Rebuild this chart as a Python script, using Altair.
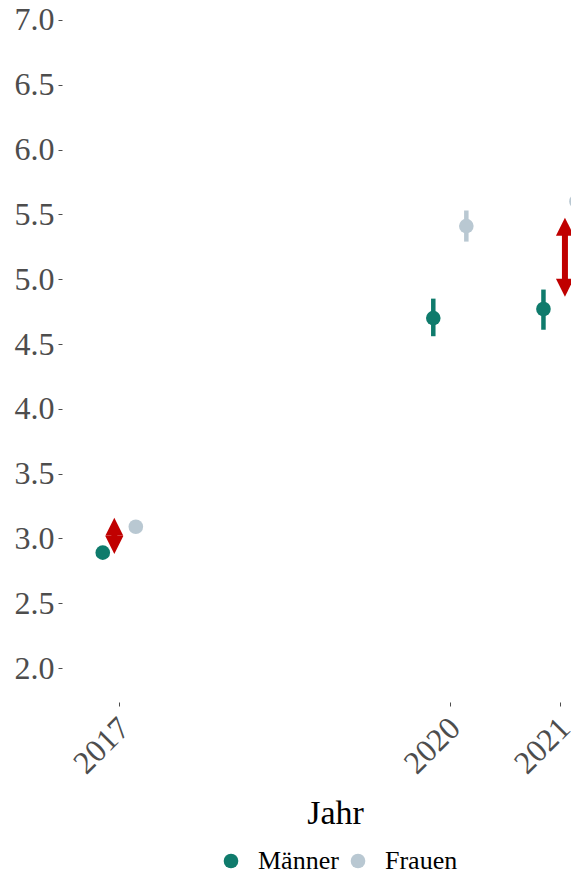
import altair as alt
import pandas as pd

# Survey years and group estimates (mean with interval bounds)
jahr = [2017, 2020, 2021]
maenner = [2.89, 4.70, 4.77]
maenner_lo = [2.89, 4.56, 4.61]
maenner_hi = [2.89, 4.85, 4.92]
frauen = [3.09, 5.41, 5.60]
frauen_lo = [3.09, 5.29, 5.48]
frauen_hi = [3.09, 5.53, 5.72]

# Gap arrows between the groups
pfeil_jahr = [2017, 2021]
pfeil_von = [2.88, 4.865]
pfeil_bis = [3.16, 5.475]

gruppen = ["Männer", "Frauen"]
farben = ["#0f7b6c", "#b9c8d2"]
ROT = "#c00000"
FONT = "Liberation Serif"

DODGE = {"Männer": -0.15, "Frauen": 0.15}
ARROW_NUDGE = {2017: -0.045, 2021: 0.045}

rows = []
for i, j in enumerate(jahr):
    rows.append({"Jahr": j, "Gruppe": "Männer", "Wert": maenner[i],
                 "lo": maenner_lo[i], "hi": maenner_hi[i]})
    rows.append({"Jahr": j, "Gruppe": "Frauen", "Wert": frauen[i],
                 "lo": frauen_lo[i], "hi": frauen_hi[i]})
df = pd.DataFrame(rows)
df["xpos"] = df["Jahr"] + df["Gruppe"].map(DODGE)

pf = pd.DataFrame({"Jahr": pfeil_jahr, "von": pfeil_von, "bis": pfeil_bis})
pf["xpos"] = pf["Jahr"] + pf["Jahr"].map(ARROW_NUDGE)

xscale = alt.Scale(domain=[2016.48, 2021.1], nice=False, zero=False)
yscale = alt.Scale(domain=[1.738, 7.154], nice=False, zero=False)

x_axis = alt.Axis(
    values=jahr, format="d", labelAngle=-45, labelAlign="right",
    labelBaseline="top", labelFont=FONT, labelFontSize=32,
    labelColor="#4d4d4d", tickColor="#4d4d4d", tickSize=4, labelPadding=6,
    labelOffset=-6,
    domain=False, grid=False, title="Jahr", titleFont=FONT,
    titleFontSize=34, titleFontWeight="normal", titleColor="#000000",
    titleX=273, titleY=121, titleBaseline="alphabetic", titleAnchor="middle",
    titleAlign="center",
)
y_axis = alt.Axis(
    values=[2.0, 2.5, 3.0, 3.5, 4.0, 4.5, 5.0, 5.5, 6.0, 6.5, 7.0],
    format=".1f", labelFont=FONT, labelFontSize=32, labelColor="#4d4d4d",
    tickColor="#4d4d4d", tickSize=4, labelPadding=4, domain=False,
    grid=False, title=None,
)

color = alt.Color(
    "Gruppe:N",
    scale=alt.Scale(domain=gruppen, range=farben),
    legend=alt.Legend(
        orient="none", legendX=156, legendY=848, direction="horizontal",
        title=None, labelFont=FONT, labelFontSize=26, labelColor="#000000",
        symbolType="circle", symbolSize=214, symbolStrokeWidth=0,
        symbolOpacity=1, columnPadding=6, labelOffset=14, padding=0,
    ),
)

base = alt.Chart(df)

fehler = base.mark_rule(strokeWidth=4.5, clip=True).encode(
    x=alt.X("xpos:Q", scale=xscale, axis=x_axis),
    y=alt.Y("lo:Q", scale=yscale, axis=y_axis),
    y2="hi:Q",
    color=color,
)

punkte = base.mark_circle(size=214, opacity=1, clip=True).encode(
    x=alt.X("xpos:Q", scale=xscale),
    y=alt.Y("Wert:Q", scale=yscale),
    color=color,
)

# Arrow: shaft pulled back under the heads so it never pokes out at the tips
pbase = alt.Chart(pf)
schaft = pbase.mark_rule(
    strokeWidth=6, color=ROT, clip=True, yOffset=-9, y2Offset=9
).encode(
    x=alt.X("xpos:Q", scale=xscale),
    y=alt.Y("von:Q", scale=yscale),
    y2="bis:Q",
)
spitze_oben = pbase.mark_point(
    shape="M0,0L-0.5,1L0.5,1Z", size=1296, filled=True, color=ROT,
    opacity=1, strokeWidth=0, clip=True,
).encode(x=alt.X("xpos:Q", scale=xscale), y=alt.Y("bis:Q", scale=yscale))
spitze_unten = pbase.mark_point(
    shape="M0,0L-0.5,-1L0.5,-1Z", size=1296, filled=True, color=ROT,
    opacity=1, strokeWidth=0, clip=True,
).encode(x=alt.X("xpos:Q", scale=xscale), y=alt.Y("von:Q", scale=yscale))

chart = (
    alt.layer(fehler, punkte, schaft, spitze_oben, spitze_unten)
    .properties(
        width=509, height=702,
        autosize=alt.AutoSizeParams(type="none"),
        padding={"left": 62, "top": 0, "right": 0, "bottom": 172},
        background="#ffffff",
    )
    .configure_view(strokeWidth=0)
)

chart.save("out.html", embed_options={"renderer": "svg", "actions": False})
